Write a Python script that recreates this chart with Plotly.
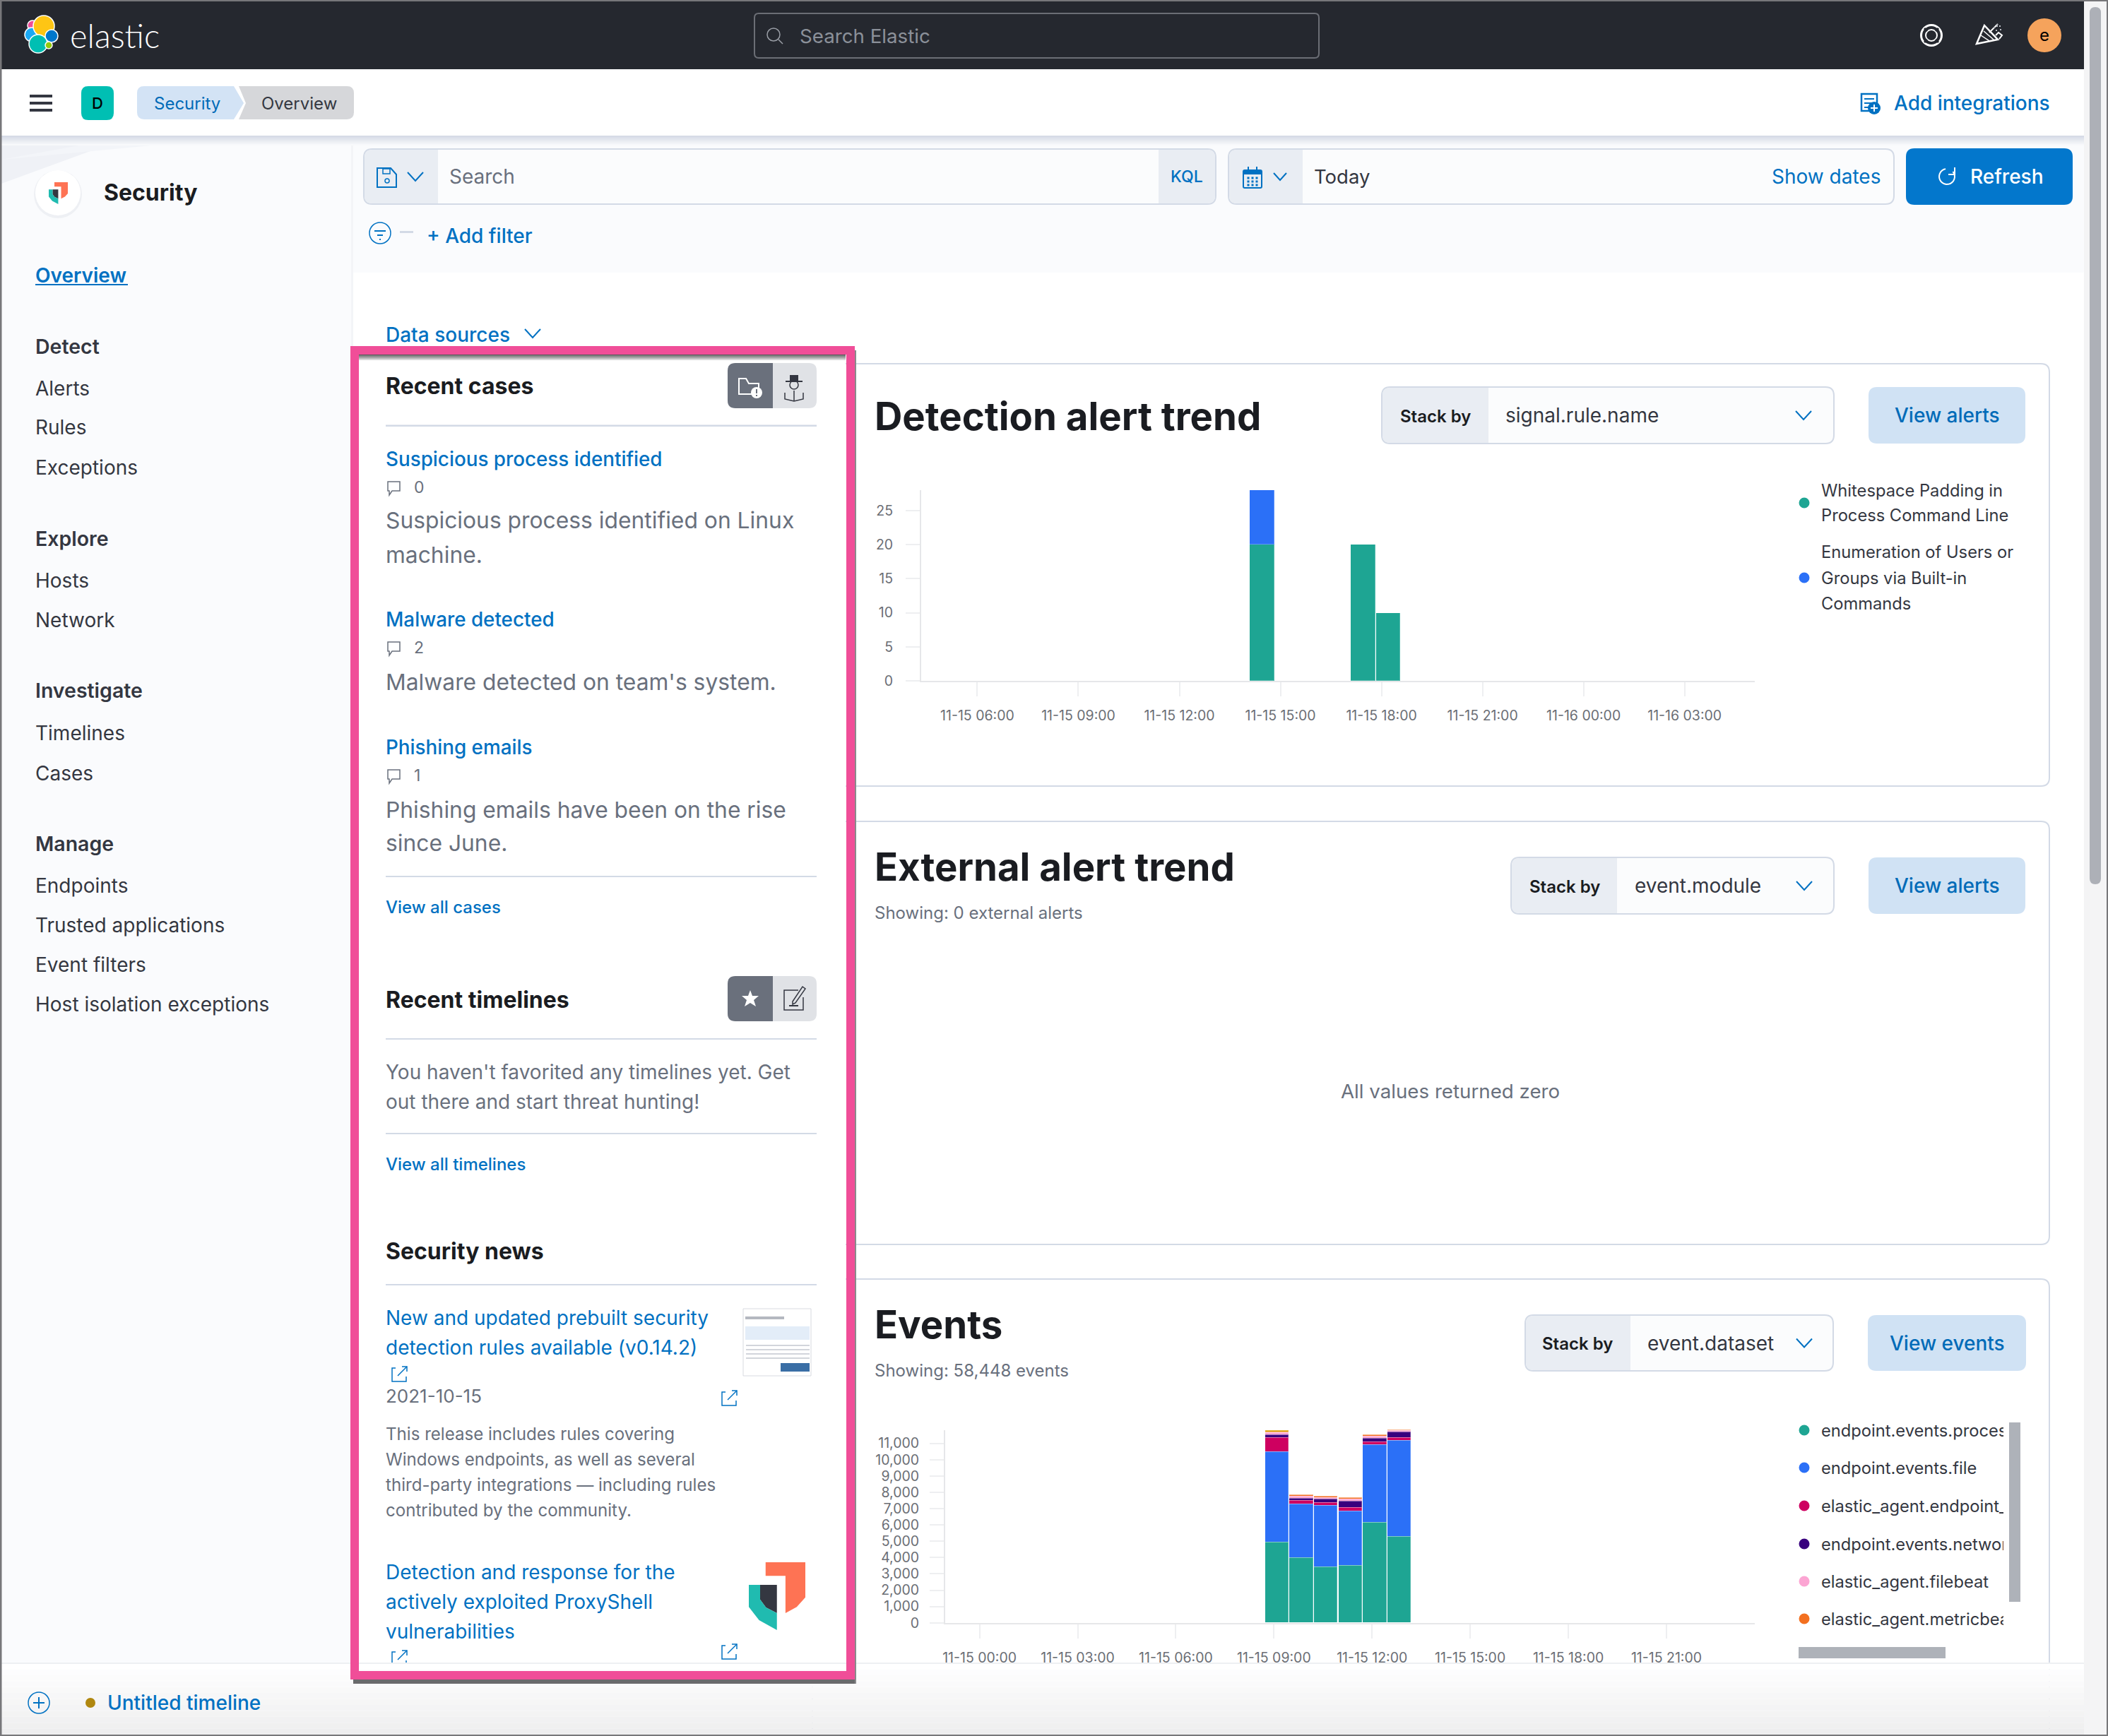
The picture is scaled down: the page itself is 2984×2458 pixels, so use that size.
import math

import plotly.graph_objects as go

W, H = 2984, 2458
FONT = "Inter"
BLUE = "#0071c2"
GREY = "#69707d"
INK = "#343741"
DARK = "#1a1c21"
RULE = "#d3dae6"

# Detection alert trend ------------------------------------------------------
ALERT_TIMES = ["2021-11-15 14:27", "2021-11-15 17:27", "2021-11-15 18:12"]
ALERT_WHITESPACE = [20, 20, 10]
ALERT_ENUMERATION = [8, 0, 0]
ALERT_Y_TICKS = [0, 5, 10, 15, 20, 25]

# Events ---------------------------------------------------------------------
EVENT_TIMES = ["2021-11-15 09:05", "2021-11-15 09:50", "2021-11-15 10:35",
               "2021-11-15 11:20", "2021-11-15 12:05", "2021-11-15 12:50"]
EVENT_PROCESS = [4953, 4014, 3437, 3509, 6137, 5285]
EVENT_FILE = [5545, 3278, 3740, 3350, 4780, 5892]
EVENT_ENDPOINT = [837, 188, 188, 202, 188, 188]
EVENT_NETWORK = [188, 159, 202, 390, 217, 332]
EVENT_FILEBEAT = [115, 101, 115, 115, 101, 87]
EVENT_METRICBEAT = [72, 87, 87, 87, 87, 72]
EVENT_OTHER = [58, 0, 0, 0, 0, 0]
EVENT_Y_TICKS = list(range(0, 12000, 1000))

EVENT_SERIES = [("endpoint.events.process", EVENT_PROCESS, "#1ea593"),
                ("endpoint.events.file", EVENT_FILE, "#2b70f7"),
                ("elastic_agent.endpoint_security", EVENT_ENDPOINT, "#ce0060"),
                ("endpoint.events.network", EVENT_NETWORK, "#38007e"),
                ("elastic_agent.filebeat", EVENT_FILEBEAT, "#fca5d3"),
                ("elastic_agent.metricbeat", EVENT_METRICBEAT, "#f37020"),
                ("other", EVENT_OTHER, "#d9a100")]

SIDEBAR_ITEMS = [("Detect", 490, 600), ("Alerts", 550, 400), ("Rules", 605, 400),
                 ("Exceptions", 662, 400), ("Explore", 762, 600), ("Hosts", 822, 400),
                 ("Network", 878, 400), ("Investigate", 978, 600), ("Timelines", 1038, 400),
                 ("Cases", 1095, 400), ("Manage", 1194, 600), ("Endpoints", 1254, 400),
                 ("Trusted applications", 1310, 400), ("Event filters", 1366, 400),
                 ("Host isolation exceptions", 1422, 400)]

shapes, notes = [], []


def px(x):
    return x / W


def py(y):
    return 1 - y / H


def rect(x0, y0, x1, y1, fill, line=None, lw=0):
    shapes.append(dict(type="rect", xref="paper", yref="paper", x0=px(x0), x1=px(x1),
                       y0=py(y0), y1=py(y1), fillcolor=fill, layer="below",
                       line=dict(color=line or fill, width=lw)))


def path(d, fill=None, line=None, lw=0):
    shapes.append(dict(type="path", xref="paper", yref="paper", path=d, layer="below",
                       fillcolor=fill or "rgba(0,0,0,0)",
                       line=dict(color=line or "rgba(0,0,0,0)", width=lw)))


def poly(pts, fill=None, line=None, lw=0, close=True):
    d = "M" + " L".join(f"{px(x):.6f},{py(y):.6f}" for x, y in pts) + (" Z" if close else "")
    path(d, fill, line, lw)


def rrect(x0, y0, x1, y1, r, fill=None, line=None, lw=0, left=True, right=True):
    rl, rr = (r if left else 0), (r if right else 0)
    p = lambda x, y: f"{px(x):.6f},{py(y):.6f}"
    d = (f"M{p(x0 + rl, y0)} L{p(x1 - rr, y0)} Q{p(x1, y0)} {p(x1, y0 + rr)} "
         f"L{p(x1, y1 - rr)} Q{p(x1, y1)} {p(x1 - rr, y1)} L{p(x0 + rl, y1)} "
         f"Q{p(x0, y1)} {p(x0, y1 - rl)} L{p(x0, y0 + rl)} Q{p(x0, y0)} {p(x0 + rl, y0)} Z")
    path(d, fill, line, lw)


def circle(cx, cy, r, fill=None, line=None, lw=0):
    shapes.append(dict(type="circle", xref="paper", yref="paper", x0=px(cx - r), x1=px(cx + r),
                       y0=py(cy - r), y1=py(cy + r), layer="below",
                       fillcolor=fill or "rgba(0,0,0,0)",
                       line=dict(color=line or "rgba(0,0,0,0)", width=lw)))


def chevron(cx, cy, color=BLUE, w=11, h=6):
    poly([(cx - w, cy - h), (cx, cy + h), (cx + w, cy - h)], line=color, lw=2, close=False)


def vgrad(x0, y0, x1, y1, c0, c1, n=10):
    for i in range(n):
        t = i / (n - 1)
        c = [round(a + (b - a) * t) for a, b in zip(c0, c1)]
        rect(x0, y0 + (y1 - y0) * i / n, x1, y0 + (y1 - y0) * (i + 1) / n,
             f"rgb({c[0]},{c[1]},{c[2]})")


def text(s, x, y, size, color=INK, weight=400, anchor="left", family=FONT, width=None):
    if anchor == "left":
        x -= 1.5
    notes.append(dict(text=s, xref="paper", yref="paper", x=px(x), y=py(y), showarrow=False,
                      xanchor=anchor, yanchor="middle", align="left", borderpad=0, width=width,
                      font=dict(family=family, size=size, color=color, weight=weight)))


def shield(x0, y0, w, h):
    def m(pts):
        return [(x0 + a / 165 * w, y0 + b / 228 * h) for a, b in pts]
    poly(m([(49, 0), (165, 0), (165, 118), (140, 150), (107, 171), (107, 46), (49, 46)]), "#fe7354")
    poly(m([(33, 76), (82, 76), (82, 171), (50, 152), (33, 125)]), "#343741")
    poly(m([(0, 76), (33, 76), (33, 125), (50, 152), (82, 171), (82, 228), (30, 195), (0, 150)]), "#20bbb0")


def ext_link(x, y):
    poly([(x - 6, y - 9), (x - 11, y - 9), (x - 11, y + 10), (x + 9, y + 10), (x + 9, y + 3)],
         line=BLUE, lw=1.5, close=False)
    poly([(x - 3, y + 2), (x + 10, y - 11)], line=BLUE, lw=1.5, close=False)
    poly([(x + 3, y - 11), (x + 10, y - 11), (x + 10, y - 4)], line=BLUE, lw=1.5, close=False)


def comment(x, y):
    poly([(x, y - 8), (x + 17, y - 8), (x + 17, y + 5), (x + 6, y + 5), (x + 2, y + 11),
          (x + 2, y + 5), (x, y + 5)], line=GREY, lw=1.5)


def toggle(x0, xm, x1, y0, y1):
    rrect(x0, y0, xm + 8, y1, 11, "#6a707c", right=False)
    rrect(xm, y0, x1, y1, 11, "#e0e2e6", left=False)


def stack_control(x0, xs, x1, y0, y1, label_x, value_x, value, chev_x):
    rrect(x0, y0, x1, y1, 12, "#fbfcfd", RULE, 2)
    rrect(x0 + 1, y0 + 1, xs, y1 - 1, 11, "#e9edf3", right=False)
    text("Stack by", label_x, (y0 + y1) / 2 + 1, 24, DARK, 600, "center")
    text(value, value_x, (y0 + y1) / 2, 28, INK)
    chevron(chev_x, (y0 + y1) / 2)


def view_button(x0, x1, y0, y1, label):
    rrect(x0, y0, x1, y1, 12, "#d0e2f4")
    text(label, (x0 + x1) / 2, (y0 + y1) / 2, 28, "#006bb8", 500, "center")


# window chrome ---------------------------------------------------------------
rect(2, 192, 497, 2360, "#fafbfd")
rect(497, 192, 2950, 386, "#fafbfd")
rect(497, 192, 500, 2360, "#f3f4f7")
poly([(2, 192), (188, 192), (2, 260)], "#eff1f6")
poly([(188, 192), (363, 192), (130, 214), (2, 226)], "#f3f5f9")
vgrad(2, 192, 2950, 206, (214, 219, 230), (248, 249, 251), 7)
rect(2, 2, 2950, 98, "#25282f")

# logo
for cx, cy, r, color in ((46, 36, 7, "#f04e98"), (45, 49, 10, "#1ba9f5"), (62, 37, 15, "#fec514"),
                         (73, 51, 9, "#0077cc"), (54, 62, 13, "#00bfb3"), (69, 64, 5, "#93c90e")):
    circle(cx, cy, r, color, "#ffffff", 1.5)
text("elastic", 99, 50, 47, "#ffffff", 300, family="Lato")

rrect(1068, 19, 1867, 82, 6, "#25282f", "#6b6e75", 2)
circle(1095, 49, 9, None, "#9a9ea6", 1.5)
poly([(1102, 56), (1108, 62)], line="#9a9ea6", lw=1.5, close=False)
text("Search Elastic", 1132, 51, 27.7, "#8b9099")

# help ring
circle(2734, 50, 14.5, None, "#ffffff", 3)
circle(2734, 50, 8, None, "#ffffff", 2)
for sx, sy in ((-1, -1), (1, -1), (-1, 1), (1, 1)):
    poly([(2734 + sx * 6, 50 + sy * 6), (2734 + sx * 10, 50 + sy * 10)], line="#25282f", lw=3, close=False)
# news icon
poly([(2798, 62), (2809, 36), (2828, 56)], None, "#ffffff", 2.5)
poly([(2804, 50), (2816, 58)], line="#ffffff", lw=1.5, close=False)
poly([(2808, 44), (2822, 56)], line="#ffffff", lw=1.5, close=False)
poly([(2816, 46), (2828, 34)], line="#ffffff", lw=2, close=False)
poly([(2825, 50), (2829, 46), (2834, 50), (2830, 55)], line="#ffffff", lw=2, close=False)
for dx, dy in ((2822, 38), (2826, 36), (2830, 36), (2825, 42), (2831, 41), (2826, 34)):
    rect(dx, dy, dx + 2, dy + 2, "#b9bcc2")
circle(2894, 50, 24, "#f5a35c")
text("e", 2894, 50, 24, "#000000", 400, "center")

# breadcrumbs
for yy in (136, 146, 156):
    rect(42, yy - 2, 74, yy + 2, INK)
rrect(115, 122, 161, 170, 10, "#00bfb3")
text("D", 138, 146, 22, "#000000", 500, "center")
rrect(194, 122, 240, 169, 10, "#d3e3f5", right=False)
poly([(225, 122), (331, 122), (345, 146), (331, 169), (225, 169)], "#d3e3f5")
rrect(400, 122, 501, 169, 10, "#d6d7da", left=False)
poly([(338, 122), (420, 122), (420, 169), (338, 169), (348, 146)], "#d6d7da")
text("Security", 218, 146, 24, "#006bb8")
text("Overview", 370, 146, 24, INK)

rect(2635, 133, 2657, 157, "#ffffff", BLUE, 2.5)
for yy in (140, 146, 152):
    rect(2639, yy - 1, 2653, yy + 1, BLUE)
circle(2653, 153, 9, BLUE)
rect(2648, 152, 2658, 154, "#ffffff")
rect(2652, 148, 2654, 158, "#ffffff")
text("Add integrations", 2681, 146, 28, BLUE, 500)

# sidebar
circle(82, 275, 34, "#eef0f4")
circle(82, 273, 32, "#ffffff")
shield(69, 258, 27, 31)
text("Security", 147, 272, 32, DARK, 700)
text("Overview", 50, 390, 28, BLUE, 600)
rect(50, 402, 181, 404, BLUE)
for label, yy, weight in SIDEBAR_ITEMS:
    text(label, 50, yy, 28.5 if weight == 600 else 28, INK, weight)

# query bar
rrect(515, 211, 1721, 289, 12, "#fbfcfd", RULE, 2)
rrect(516, 212, 620, 288, 11, "#e9edf3", right=False)
rrect(1640, 212, 1720, 288, 11, "#e9edf3", left=False)
poly([(534, 238), (553, 238), (561, 247), (561, 265), (534, 265)], None, BLUE, 2)
rect(542, 239, 552, 246, "rgba(0,0,0,0)", BLUE, 1.5)
circle(548, 256, 3, None, BLUE, 1.5)
chevron(588, 250, BLUE, 11, 6)
text("Search", 636, 250, 28, GREY)
text("KQL", 1680, 250, 23, BLUE, 500, "center")
rrect(1739, 211, 2681, 289, 12, "#fbfcfd", RULE, 2)
rrect(1740, 212, 1844, 288, 11, "#e9edf3", right=False)
rrect(1760, 241, 1786, 266, 2, None, BLUE, 2)
rect(1760, 241, 1786, 247, BLUE)
for peg in (1767, 1779):
    rect(peg - 1, 236, peg + 1, 242, BLUE)
for gx in (1767, 1773, 1779):
    for gy in (252, 257, 262):
        rect(gx - 1.5, gy - 1.5, gx + 1.5, gy + 1.5, BLUE)
chevron(1812, 250, BLUE, 9, 5)
text("Today", 1861, 250, 27.5, INK)
text("Show dates", 2663, 250, 28, BLUE, 400, "right")
rrect(2698, 210, 2934, 290, 12, "#0377cc")
arc = [(2756 + 11 * math.cos(math.radians(a)), 250 + 11 * math.sin(math.radians(a)))
       for a in range(-40, 275, 15)]
poly(arc, None, "#ffffff", 2, close=False)
poly([(2767, 237), (2767, 247), (2758, 247)], line="#ffffff", lw=2, close=False)
text("Refresh", 2789, 250, 28, "#ffffff", 500)
circle(538, 330, 15, None, BLUE, 1.5)
rect(530, 326, 546, 328, BLUE)
rect(534, 332, 542, 334, BLUE)
rect(537, 338, 539, 340, BLUE)
rect(566, 327, 585, 330, RULE)
text("+ Add filter", 604, 334, 28, BLUE, 500)
text("Data sources", 546, 474, 28, BLUE, 500)
chevron(754, 472, BLUE, 11, 6)

# cards
rrect(1150, 515, 2901, 1113, 12, "#ffffff", RULE, 2)
rrect(1150, 1163, 2901, 1762, 12, "#ffffff", RULE, 2)
rrect(1150, 1811, 2901, 2600, 12, "#ffffff", RULE, 2)

text("Detection alert trend", 1238, 589, 54.5, DARK, 700)
stack_control(1956, 2107, 2596, 548, 628, 2032, 2131, "signal.rule.name", 2553)
view_button(2645, 2867, 548, 628, "View alerts")
for label, yy in (("Whitespace Padding in", 694), ("Process Command Line", 730),
                  ("Enumeration of Users or", 782), ("Groups via Built-in", 818),
                  ("Commands", 854)):
    text(label, 2578, yy, 23.7, INK)
circle(2554, 712, 7.5, "#1ea593")
circle(2554, 818, 7.5, "#2b70f7")

text("External alert trend", 1238, 1227, 54.5, DARK, 700)
text("Showing: 0 external alerts", 1238, 1292, 24, GREY)
stack_control(2139, 2289, 2596, 1214, 1294, 2215, 2314, "event.module", 2554)
view_button(2645, 2867, 1214, 1294, "View alerts")
text("All values returned zero", 2053, 1545, 27.7, GREY, 400, "center")

text("Events", 1238, 1875, 54.5, DARK, 700)
text("Showing: 58,448 events", 1238, 1940, 24, GREY)
stack_control(2159, 2308, 2595, 1862, 1941, 2233, 2332, "event.dataset", 2554)
view_button(2644, 2868, 1862, 1941, "View events")
for (label, _, color), yy in zip(EVENT_SERIES[:6], (2025, 2078, 2132, 2186, 2239, 2292)):
    circle(2554, yy, 7.5, color)
    text(label, 2578, yy, 23.7, INK, width=258)
rect(2844, 2014, 2860, 2268, "#aeb2b9")
rect(2546, 2332, 2754, 2348, "#aeb2b9")

# highlighted panel
rect(508, 502, 1197, 2366, "#ffffff")
vgrad(508, 502, 1197, 512, (90, 90, 92), (255, 255, 255), 6)

text("Recent cases", 546, 547, 32, DARK, 700)
toggle(1030, 1094, 1156, 514, 578)
poly([(1046, 536), (1046, 558), (1074, 558), (1074, 543), (1060, 543), (1056, 536)], None, "#ffffff", 2)
circle(1071, 556, 8, "#ffffff")
rect(1070, 551, 1072, 557, "#6a707c")
rect(1070, 559, 1072, 561, "#6a707c")
rect(1118, 531, 1130, 539, INK)
rect(1112, 539, 1136, 541, INK)
circle(1124, 545, 6, None, INK, 1.5)
poly([(1111, 556), (1111, 585 - 20), (1124, 568), (1137, 565), (1137, 556)], None, INK, 1.5, close=False)
poly([(1124, 553), (1124, 568)], line=INK, lw=1.5, close=False)
rect(546, 601.5, 1156, 604, RULE)
text("Suspicious process identified", 546, 650, 27.8, BLUE, 500)
comment(549, 690)
text("0", 586, 690, 23, GREY)
text("Suspicious process identified on Linux", 546, 737, 31.8, GREY)
text("machine.", 546, 785, 31.8, GREY)
text("Malware detected", 546, 877, 27.8, BLUE, 500)
comment(549, 917)
text("2", 586, 917, 23, GREY)
text("Malware detected on team's system.", 546, 965, 31.8, GREY)
text("Phishing emails", 546, 1058, 27.8, BLUE, 500)
comment(549, 1098)
text("1", 586, 1098, 23, GREY)
text("Phishing emails have been on the rise", 546, 1146, 31.8, GREY)
text("since June.", 546, 1193, 31.8, GREY)
rect(546, 1240, 1156, 1242, RULE)
text("View all cases", 546, 1284, 24, BLUE, 500)

text("Recent timelines", 546, 1415, 32, DARK, 700)
toggle(1030, 1094, 1156, 1382, 1446)
poly([(1062, 1402), (1065, 1410), (1074, 1410), (1067, 1416), (1070, 1425), (1062, 1420),
      (1054, 1425), (1057, 1416), (1050, 1410), (1059, 1410)], "#ffffff")
poly([(1130, 1402), (1110, 1402), (1110, 1430), (1137, 1430), (1137, 1412)], None, INK, 1.5, close=False)
poly([(1122, 1418), (1136, 1397), (1140, 1400), (1126, 1420), (1122, 1422)], None, INK, 1.5)
rect(1117, 1423, 1130, 1425, INK)
rect(546, 1470, 1156, 1472, RULE)
text("You haven't favorited any timelines yet. Get", 546, 1518, 28, GREY)
text("out there and start threat hunting!", 546, 1560, 28, GREY)
rect(546, 1604, 1156, 1606, RULE)
text("View all timelines", 546, 1648, 24, BLUE, 500)

text("Security news", 546, 1771, 32, DARK, 700)
rect(546, 1818, 1156, 1820, RULE)
text("New and updated prebuilt security", 546, 1866, 28, BLUE)
text("detection rules available (v0.14.2)", 546, 1908, 28, BLUE)
ext_link(566, 1946)
text("2021-10-15", 546, 1977, 26, GREY)
ext_link(1033, 1980)
for line, yy in (("This release includes rules covering", 2030),
                 ("Windows endpoints, as well as several", 2066),
                 ("third-party integrations — including rules", 2102),
                 ("contributed by the community.", 2138)):
    text(line, 546, yy, 24.1, GREY)
rect(1052, 1853, 1148, 1948, "#ffffff", "#d8dae0", 1)
rect(1055, 1864, 1110, 1868, "#b4b8c0")
rect(1055, 1878, 1146, 1897, "#e3edf8")
for yy in (1904, 1910, 1916, 1922):
    rect(1056, yy, 1146, yy + 2, "#d2d5db")
rect(1105, 1930, 1146, 1942, "#3a6ea5")
text("Detection and response for the", 546, 2226, 28, BLUE)
text("actively exploited ProxyShell", 546, 2268, 28, BLUE)
text("vulnerabilities", 546, 2310, 28, BLUE)
shield(1060, 2212, 80, 96)
ext_link(1033, 2339)
ext_link(566, 2348)

# bottom bar
vgrad(2, 2355, 2950, 2456, (255, 255, 255), (238, 238, 239), 12)
rect(2, 2354, 2950, 2356, "#eef0f3")
circle(55, 2411, 15, None, BLUE, 1.5)
rect(47, 2410, 63, 2412, BLUE)
rect(54, 2403, 56, 2419, BLUE)
circle(128, 2411, 7, "#b0870f")
text("Untitled timeline", 152, 2411, 28, BLUE, 500)

# pink frame
rect(500, 2378, 1212, 2384, "#6a6a6c")
rect(1210, 496, 1212, 2384, "#8a8a8c")
for box in ((496, 490, 1210, 502), (496, 2366, 1210, 2378), (496, 490, 508, 2378), (1198, 490, 1210, 2378)):
    rect(*box, "#f04e98")

# scrollbar and window edge
rect(2950, 2, 2982, 2456, "#f4f4f5")
rrect(2958, 10, 2974, 1252, 8, "#adb0b7")
rect(0, 0, W, 2, "#77777a")
rect(0, 0, 2.5, H, "#77777a")
rect(2982, 0, W, H, "#77777a")
rect(0, 2456, W, H, "#77777a")

fig = go.Figure()

fig.add_trace(go.Bar(x=ALERT_TIMES, y=ALERT_WHITESPACE, width=2597760, xaxis="x", yaxis="y",
                     name="Whitespace Padding in Process Command Line",
                     marker=dict(color="#1ea593", line=dict(color="rgba(255,255,255,0.25)", width=1))))
fig.add_trace(go.Bar(x=ALERT_TIMES, y=ALERT_ENUMERATION, width=2597760, xaxis="x", yaxis="y",
                     name="Enumeration of Users or Groups via Built-in Commands",
                     marker=dict(color="#2b70f7", line=dict(color="rgba(255,255,255,0.25)", width=1))))
for name, vals, color in EVENT_SERIES:
    fig.add_trace(go.Bar(x=EVENT_TIMES, y=vals, width=2588400, xaxis="x2", yaxis="y2", name=name,
                         marker=dict(color=color, line=dict(color="rgba(255,255,255,0.25)", width=1))))

TICK_STYLE = dict(showgrid=False, zeroline=False, showline=True, linecolor="#e6e7e9", linewidth=2,
                  ticks="outside", ticklen=20, tickwidth=2, tickcolor="#eeeff1",
                  tickfont=dict(family=FONT, size=19.5, color="#6b6e75"))

fig.update_layout(
    width=W, height=H, margin=dict(l=0, r=0, t=0, b=0, autoexpand=False),
    paper_bgcolor="#ffffff", plot_bgcolor="rgba(0,0,0,0)", barmode="stack", showlegend=False,
    bargap=0, hovermode=False, shapes=shapes, annotations=notes,
    xaxis=dict(domain=[px(1304), px(2484)], anchor="y", type="date",
               range=["2021-11-15 04:20", "2021-11-16 05:05"], tick0="2021-11-15 06:00",
               dtick=10800000, tickformat="%m-%d %H:%M", ticklabelstandoff=11, **TICK_STYLE),
    yaxis=dict(domain=[py(964), py(694)], anchor="x", range=[0, 28], tickvals=ALERT_Y_TICKS,
               ticklabelstandoff=14, **TICK_STYLE),
    xaxis2=dict(domain=[px(1338), px(2484)], anchor="y2", type="date",
                range=["2021-11-14 22:57", "2021-11-15 23:42"], tick0="2021-11-15 00:00",
                dtick=10800000, tickformat="%m-%d %H:%M", ticklabelstandoff=11, **TICK_STYLE),
    yaxis2=dict(domain=[py(2297.7), py(2024.5)], anchor="x2", range=[0, 11830], tickvals=EVENT_Y_TICKS,
                tickformat=",d", ticklabelstandoff=11, **TICK_STYLE),
)

fig.write_html("out.html", config=dict(displayModeBar=False),
               post_script="document.body.style.margin='0';document.body.style.overflow='hidden';")
